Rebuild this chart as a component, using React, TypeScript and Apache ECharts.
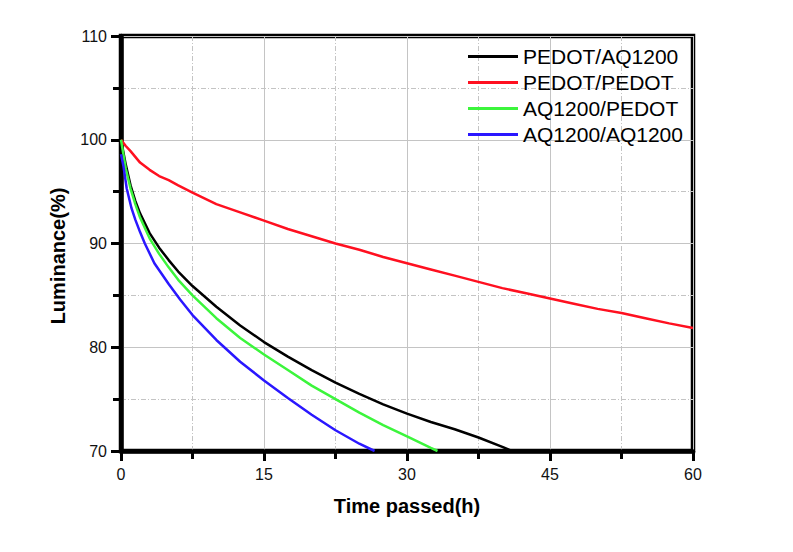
import React, { useEffect, useRef } from "react";
import * as echarts from "echarts";

const seriesNames = ["PEDOT/AQ1200", "PEDOT/PEDOT", "AQ1200/PEDOT", "AQ1200/AQ1200"];
const seriesColors = ["#000000", "#ff1020", "#3cf53c", "#2a17ff"];

const tBlack = [0, 0.5, 1, 1.5, 2, 3, 4, 5, 6, 7.5, 10, 12.5, 15, 17.5, 20, 22.5, 25, 27.5, 30, 32.5, 35, 37.5, 40, 41];
const lBlack = [100, 97.6, 95.6, 94.1, 92.9, 91, 89.6, 88.4, 87.3, 85.9, 83.9, 82.1, 80.5, 79.1, 77.8, 76.6, 75.5, 74.5, 73.6, 72.8, 72.1, 71.3, 70.4, 70];

const tRed = [0, 0.5, 1, 2, 3, 4, 5, 6, 7.5, 10, 12.5, 15, 17.5, 20, 22.5, 25, 27.5, 30, 32.5, 35, 37.5, 40, 42.5, 45, 47.5, 50, 52.5, 55, 57.5, 60];
const lRed = [100, 99.4, 98.9, 97.8, 97.1, 96.5, 96.1, 95.6, 94.9, 93.8, 93, 92.2, 91.4, 90.7, 90, 89.4, 88.7, 88.1, 87.5, 86.9, 86.3, 85.7, 85.2, 84.7, 84.2, 83.7, 83.3, 82.8, 82.3, 81.85];

const tGreen = [0, 0.5, 1, 1.5, 2, 3, 4, 5, 6, 7.5, 10, 12.5, 15, 17.5, 20, 22.5, 25, 27.5, 30, 32.5, 33.2];
const lGreen = [100, 97.2, 95.3, 93.8, 92.5, 90.5, 89, 87.7, 86.5, 85, 82.8, 80.9, 79.3, 77.8, 76.3, 75, 73.7, 72.5, 71.4, 70.3, 70];

const tBlue = [0, 0.25, 0.6, 1.1, 1.5, 2, 2.5, 3.5, 5, 6.2, 7.5, 10, 12.5, 15, 17.5, 20, 22.5, 25, 26.6];
const lBlue = [98.6, 97.5, 95.3, 93.4, 92.3, 91.1, 90, 88.1, 86.1, 84.6, 83.1, 80.7, 78.6, 76.8, 75.1, 73.5, 72, 70.7, 70];

const xTicks = [0, 15, 30, 45, 60];
const yTicks = [70, 80, 90, 100, 110];

const xTitle = "Time passed(h)";
const yTitle = "Luminance(%)";

const pairs = (t: number[], l: number[]) => t.map((x, i) => [x, l[i]]);

export default function App() {
  const ref = useRef<HTMLDivElement>(null);
  useEffect(() => {
    if (!ref.current) return;
    const chart = echarts.init(ref.current, null, { renderer: "svg" });
    const font = "Liberation Sans";
    const gridColor = "#c4c4c4";
    const axisColor = "#000000";
    const allData = [pairs(tBlack, lBlack), pairs(tRed, lRed), pairs(tGreen, lGreen), pairs(tBlue, lBlue)];
    chart.setOption({
      animation: false,
      backgroundColor: "#ffffff",
      grid: { left: 121, top: 36, right: 100, bottom: 101, show: true, borderColor: axisColor, borderWidth: 4.5, backgroundColor: "transparent" },
      legend: {
        orient: "vertical",
        left: 463,
        top: 41,
        icon: "rect",
        itemWidth: 50,
        itemHeight: 3,
        itemGap: 5,
        textStyle: { fontFamily: font, fontSize: 21, color: "#000" },
        data: seriesNames,
      },
      xAxis: {
        type: "value",
        min: xTicks[0],
        max: xTicks[xTicks.length - 1],
        interval: 15,
        name: xTitle,
        nameLocation: "middle",
        nameGap: 45,
        nameTextStyle: { fontFamily: font, fontSize: 20, fontWeight: "bold", color: "#000" },
        axisLine: { show: true, onZero: false, lineStyle: { color: axisColor, width: 4.5 } },
        axisTick: { show: true, length: 10, lineStyle: { color: axisColor, width: 3 } },
        minorTick: { show: true, splitNumber: 2, length: 8, lineStyle: { color: axisColor, width: 3 } },
        axisLabel: { margin: 15, fontFamily: font, fontSize: 16, color: "#111" },
        splitLine: { show: true, lineStyle: { color: gridColor, width: 1 } },
        minorSplitLine: { show: true, lineStyle: { color: gridColor, width: 1, type: [5, 2, 1, 2] } },
      },
      yAxis: {
        type: "value",
        min: yTicks[0],
        max: yTicks[yTicks.length - 1],
        interval: 10,
        axisLine: { show: true, onZero: false, lineStyle: { color: axisColor, width: 4.5 } },
        axisTick: { show: true, length: 10, lineStyle: { color: axisColor, width: 3 } },
        minorTick: { show: true, splitNumber: 2, length: 8, lineStyle: { color: axisColor, width: 3 } },
        axisLabel: { margin: 14, fontFamily: font, fontSize: 16, color: "#111" },
        splitLine: { show: true, lineStyle: { color: gridColor, width: 1 } },
        minorSplitLine: { show: true, lineStyle: { color: gridColor, width: 1, type: [5, 2, 1, 2] } },
      },
      graphic: [
        {
          type: "text",
          x: 58,
          y: 256,
          rotation: Math.PI / 2,
          style: {
            text: yTitle,
            fontFamily: font,
            fontSize: 20,
            fontWeight: "bold",
            fill: "#000",
            align: "center",
            verticalAlign: "middle",
          },
        },
      ],
      series: seriesNames.map((name, i) => ({
        name,
        type: "line",
        data: allData[i],
        showSymbol: false,
        symbol: "none",
        color: seriesColors[i],
        lineStyle: { color: seriesColors[i], width: 2.5 },
        clip: true,
        z: 3,
      })),
    });
    return () => chart.dispose();
  }, []);
  return <div ref={ref} style={{ position: "fixed", left: 0, top: 0, width: 793, height: 552 }} />;
}
